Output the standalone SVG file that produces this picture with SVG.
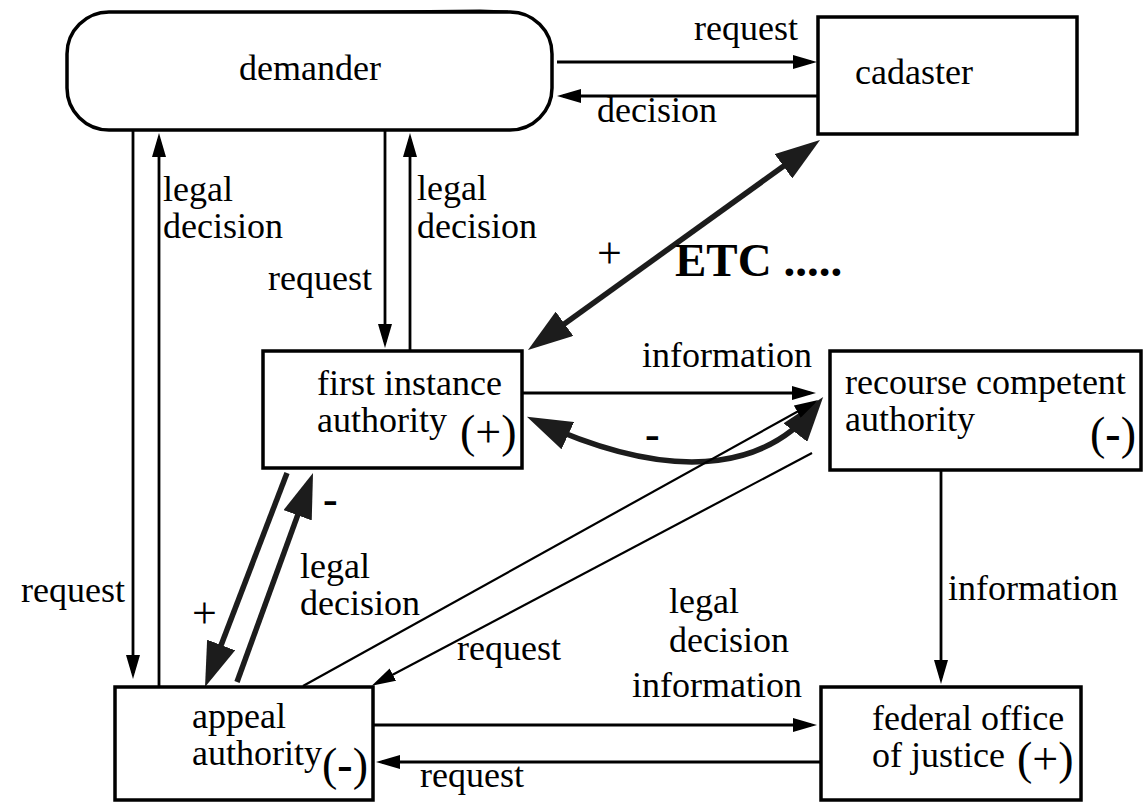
<svg xmlns="http://www.w3.org/2000/svg" width="1145" height="804" viewBox="0 0 1145 804">
<style>
  .box{fill:#fff;stroke:#000;stroke-width:3.5}
  .thin{fill:none;stroke:#000;stroke-width:2.8}
  .diag{fill:none;stroke:#000;stroke-width:2.2}
  .thick{fill:none;stroke:#1c1c1c;stroke-width:5.5}
</style>
<defs>
  <marker id="ah" markerUnits="userSpaceOnUse" markerWidth="24" markerHeight="14" refX="18" refY="7" orient="auto">
    <path d="M0,0 L24,7 L0,14 z" fill="#000"/>
  </marker>
  <marker id="AH" markerUnits="userSpaceOnUse" markerWidth="45" markerHeight="30" refX="35" refY="15" orient="auto-start-reverse">
    <path d="M0,0 L45,15 L0,30 z" fill="#1c1c1c"/>
  </marker>
</defs>

<g id="connectors">
  <line class="thin" x1="557" y1="62" x2="811" y2="62" marker-end="url(#ah)"/>
  <line class="thin" x1="818" y1="96" x2="563" y2="96" marker-end="url(#ah)"/>
  <line class="thin" x1="133" y1="131" x2="133" y2="673" marker-end="url(#ah)"/>
  <line class="thin" x1="159" y1="686" x2="159" y2="139" marker-end="url(#ah)"/>
  <line class="thin" x1="385" y1="131" x2="385" y2="342" marker-end="url(#ah)"/>
  <line class="thin" x1="410" y1="351" x2="410" y2="139" marker-end="url(#ah)"/>
  <line class="thick" x1="536.1" y1="344.2" x2="811.9" y2="145.8" marker-start="url(#AH)" marker-end="url(#AH)"/>
  <line class="thin" x1="523" y1="393" x2="810" y2="393" marker-end="url(#ah)"/>
  <path class="thick" d="M536,421 C690,492 774,460 817,405" marker-start="url(#AH)" marker-end="url(#AH)"/>
  <line class="diag" x1="303" y1="686" x2="813" y2="403" marker-end="url(#ah)"/>
  <line class="diag" x1="812" y1="453" x2="377" y2="683" marker-end="url(#ah)"/>
  <line class="thick" x1="287" y1="473" x2="208.6" y2="677.7" marker-end="url(#AH)"/>
  <line class="thick" x1="237" y1="682" x2="309.6" y2="482.4" marker-end="url(#AH)"/>
  <line class="thin" x1="941" y1="470" x2="941" y2="678" marker-end="url(#ah)"/>
  <line class="thin" x1="373" y1="725" x2="811" y2="725" marker-end="url(#ah)"/>
  <line class="thin" x1="821" y1="762" x2="382" y2="762" marker-end="url(#ah)"/>
</g>

<g id="demander">
  <rect class="box" x="67" y="12" width="485" height="118" rx="42" ry="42"/>
  <path d="M228,12 L480,9.5 L508,10.5 L508,13 L228,13 z" fill="#000"/>
  <text style="font-family:'Liberation Serif',serif;font-size:36px" x="239" y="80">demander</text>
</g>

<g id="cadaster">
  <rect class="box" x="818" y="17" width="259" height="117"/>
  <text style="font-family:'Liberation Serif',serif;font-size:36px" x="855" y="84">cadaster</text>
</g>

<g id="first-instance">
  <rect class="box" x="263" y="351" width="259" height="117"/>
  <text style="font-family:'Liberation Serif',serif;font-size:36px" x="317" y="395">first instance</text>
  <text style="font-family:'Liberation Serif',serif;font-size:36px" x="317" y="432">authority</text>
  <text style="font-family:'Liberation Serif',serif;font-size:46px" x="460" y="447">(+)</text>
</g>

<g id="recourse">
  <rect class="box" x="830" y="351" width="311" height="119"/>
  <text style="font-family:'Liberation Serif',serif;font-size:36px" x="845" y="394">recourse competent</text>
  <text style="font-family:'Liberation Serif',serif;font-size:36px" x="845" y="431">authority</text>
  <text style="font-family:'Liberation Serif',serif;font-size:46px" x="1090" y="449">(<tspan style="font-weight:bold">-</tspan>)</text>
</g>

<g id="appeal">
  <rect class="box" x="115" y="687" width="258" height="113"/>
  <text style="font-family:'Liberation Serif',serif;font-size:36px" x="192" y="728">appeal</text>
  <text style="font-family:'Liberation Serif',serif;font-size:36px" x="192" y="765">authority</text>
  <text style="font-family:'Liberation Serif',serif;font-size:46px" x="322" y="780">(<tspan style="font-weight:bold">-</tspan>)</text>
</g>

<g id="federal">
  <rect class="box" x="821" y="687" width="260" height="113"/>
  <text style="font-family:'Liberation Serif',serif;font-size:36px" x="872" y="730">federal office</text>
  <text style="font-family:'Liberation Serif',serif;font-size:36px" x="872" y="767">of justice</text>
  <text style="font-family:'Liberation Serif',serif;font-size:46px" x="1017" y="774">(+)</text>
</g>

<g id="labels">
  <text style="font-family:'Liberation Serif',serif;font-size:36px" x="694" y="40">request</text>
  <text style="font-family:'Liberation Serif',serif;font-size:36px" x="597" y="122">decision</text>
  <text style="font-family:'Liberation Serif',serif;font-size:36px" x="163" y="201">legal</text>
  <text style="font-family:'Liberation Serif',serif;font-size:36px" x="163" y="238">decision</text>
  <text style="font-family:'Liberation Serif',serif;font-size:36px" x="417" y="200">legal</text>
  <text style="font-family:'Liberation Serif',serif;font-size:36px" x="417" y="238">decision</text>
  <text style="font-family:'Liberation Serif',serif;font-size:36px" x="268" y="290">request</text>
  <text style="font-family:'Liberation Serif',serif;font-size:44px" x="597" y="268">+</text>
  <text style="font-family:'Liberation Serif',serif;font-size:47px;font-weight:bold" x="675" y="276">ETC .....</text>
  <text style="font-family:'Liberation Serif',serif;font-size:36px" x="642" y="367">information</text>
  <text style="font-family:'Liberation Serif',serif;font-size:44px;font-weight:bold" x="645" y="449">-</text>
  <text style="font-family:'Liberation Serif',serif;font-size:44px;font-weight:bold" x="323" y="514">-</text>
  <text style="font-family:'Liberation Serif',serif;font-size:36px" x="300" y="578">legal</text>
  <text style="font-family:'Liberation Serif',serif;font-size:36px" x="300" y="615">decision</text>
  <text style="font-family:'Liberation Serif',serif;font-size:44px" x="192" y="628">+</text>
  <text style="font-family:'Liberation Serif',serif;font-size:36px" x="21" y="602">request</text>
  <text style="font-family:'Liberation Serif',serif;font-size:36px" x="457" y="660">request</text>
  <text style="font-family:'Liberation Serif',serif;font-size:36px" x="669" y="613">legal</text>
  <text style="font-family:'Liberation Serif',serif;font-size:36px" x="669" y="652">decision</text>
  <text style="font-family:'Liberation Serif',serif;font-size:36px" x="948" y="600">information</text>
  <text style="font-family:'Liberation Serif',serif;font-size:36px" x="632" y="697">information</text>
  <text style="font-family:'Liberation Serif',serif;font-size:36px" x="420" y="787">request</text>
</g>
</svg>
